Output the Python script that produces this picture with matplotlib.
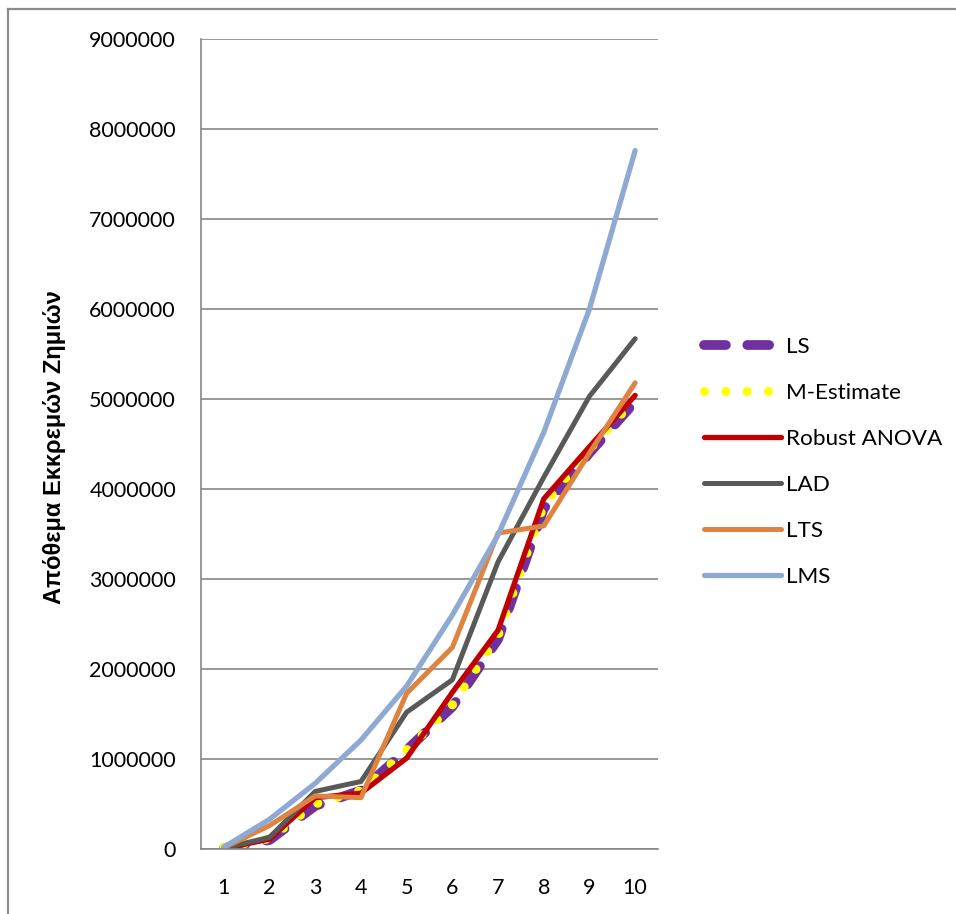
import matplotlib
matplotlib.use("Agg")
import matplotlib.pyplot as plt
from matplotlib.lines import Line2D

# Development periods and the reserve estimates of each regression method
periods = [1, 2, 3, 4, 5, 6, 7, 8, 9, 10]
ls_vals = [10000, 100000, 480000, 650000, 1100000, 1580000, 2330000, 3780000, 4400000, 4970000]
m_est_vals = [15000, 115000, 500000, 650000, 1100000, 1600000, 2370000, 3820000, 4440000, 5000000]
robust_anova_vals = [5000, 110000, 570000, 620000, 1010000, 1740000, 2430000, 3890000, 4470000, 5040000]
lad_vals = [10000, 130000, 640000, 750000, 1520000, 1880000, 3190000, 4130000, 5030000, 5670000]
lts_vals = [15000, 260000, 590000, 570000, 1730000, 2240000, 3510000, 3590000, 4400000, 5180000]
lms_vals = [20000, 330000, 730000, 1210000, 1810000, 2600000, 3490000, 4630000, 6000000, 7760000]

y_ticks = [0, 1000000, 2000000, 3000000, 4000000, 5000000, 6000000, 7000000, 8000000, 9000000]
y_label = "Απόθεμα Εκκρεμών Ζημιών"

W, H = 956, 914
fig = plt.figure(figsize=(W / 100, H / 100), dpi=100)
ax = fig.add_axes([201 / W, 1 - 849 / H, (658 - 201) / W, (849 - 39) / H])

grid_col = "#868686"

series = [
    ("LS", ls_vals, dict(color="#7030A0", lw=7.0, linestyle=(0, (2.25, 2.2)),
                         dash_capstyle="round", solid_capstyle="round")),
    ("M-Estimate", m_est_vals, dict(color="#FFFF00", lw=6.5, linestyle=(0, (0.01, 2.35)),
                                    dash_capstyle="round")),
    ("Robust ANOVA", robust_anova_vals, dict(color="#C00000", lw=3.8, solid_capstyle="round")),
    ("LAD", lad_vals, dict(color="#595959", lw=3.6, solid_capstyle="round")),
    ("LTS", lts_vals, dict(color="#DF8340", lw=3.6, solid_capstyle="round")),
    ("LMS", lms_vals, dict(color="#8FAAD2", lw=3.8, solid_capstyle="round")),
]

for name, vals, style in series:
    ax.plot(periods, vals, label=name, solid_joinstyle="round", **style)

ax.set_xlim(0.5, 10.5)
ax.set_ylim(0, 9000000)
ax.set_xticks(periods)
ax.set_xticklabels([str(p) for p in periods])
ax.set_yticks(y_ticks)
ax.set_yticklabels([str(v) for v in y_ticks])

ax.grid(axis="y", color=grid_col, lw=1.2)
ax.set_axisbelow(True)
for side in ("top", "right"):
    ax.spines[side].set_visible(False)
for side in ("left", "bottom"):
    ax.spines[side].set_color(grid_col)
    ax.spines[side].set_linewidth(1.2)

ax.tick_params(axis="both", length=0, labelsize=15.5, labelcolor="black")
ax.tick_params(axis="y", pad=18)
ax.tick_params(axis="x", pad=21)
for lbl in ax.get_xticklabels() + ax.get_yticklabels():
    lbl.set_fontfamily("Lato")

ax.set_ylabel(y_label, fontsize=17, fontweight="bold",
              fontfamily=["Liberation Sans", "DejaVu Sans"])
ax.yaxis.set_label_coords(66 / W, 1 - 447 / H, transform=fig.transFigure)

leg = fig.legend(loc="center left", bbox_to_anchor=(693 / W, 1 - 462 / H),
                 frameon=False, borderpad=0, handlelength=3.4, handletextpad=0.25,
                 labelspacing=1.15, prop={"family": "Lato", "size": 16.2})

# outer chart border
border = "#8C8C8C"
fig.add_artist(Line2D([7.5 / W, 7.5 / W], [0, 1 - 9 / H], color=border, lw=1.6,
                      transform=fig.transFigure))
fig.add_artist(Line2D([7.5 / W, 1], [1 - 9 / H, 1 - 9 / H], color=border, lw=1.6,
                      transform=fig.transFigure))

fig.savefig("out.png", dpi=100)
